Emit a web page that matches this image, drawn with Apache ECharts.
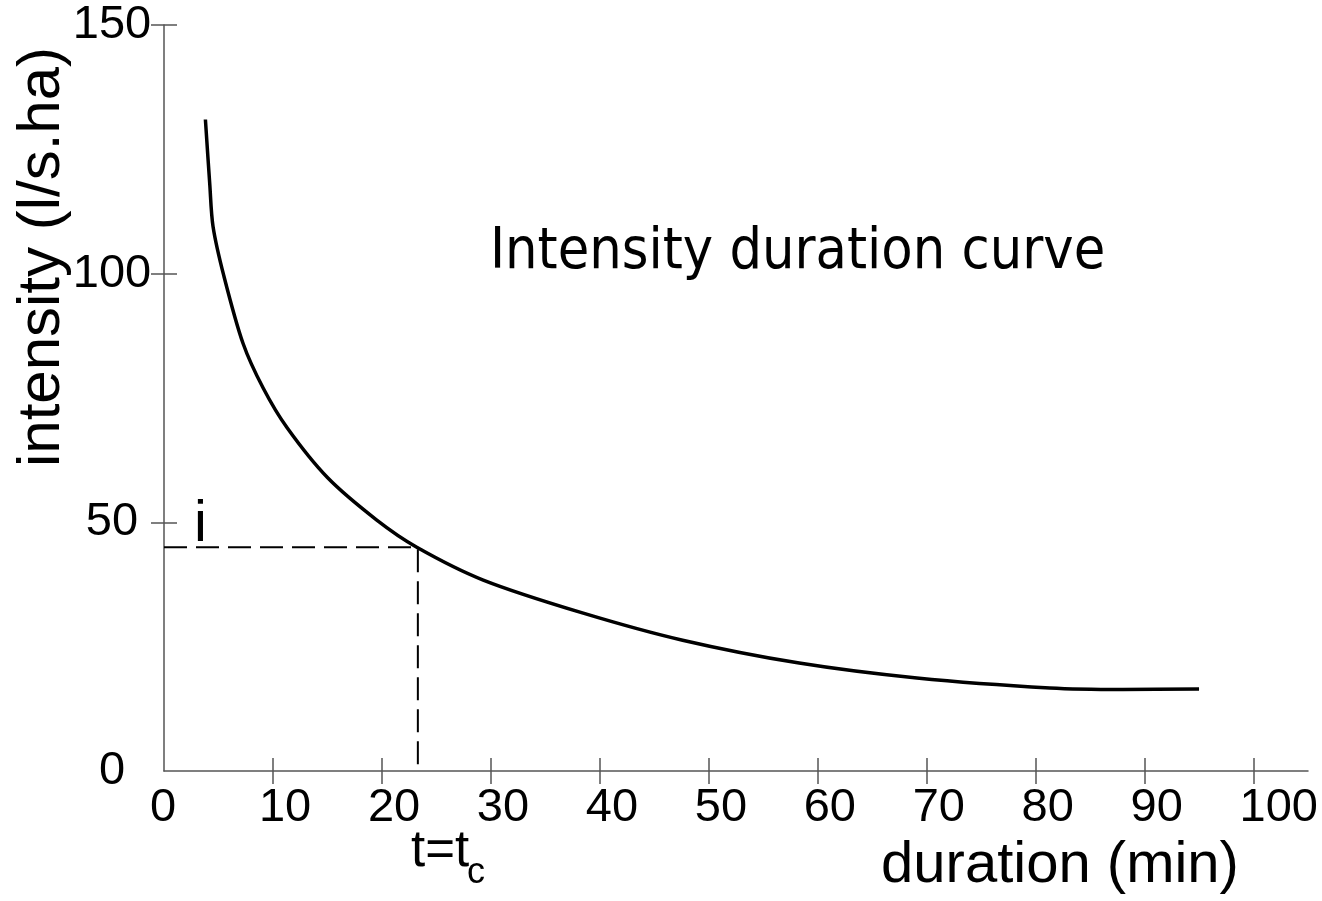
<!DOCTYPE html>
<html>
<head>
<meta charset="utf-8">
<script src="https://cdn.jsdelivr.net/npm/echarts@6/dist/echarts.min.js"></script>
<style>
html,body{margin:0;padding:0;background:#fff;}
#c{width:1322px;height:901px;}
</style>
</head>
<body>
<div id="c"></div>
<script>
// ---- data ----
const durations = [3.8, 4.2, 4.5, 5.5, 7.25, 9.1, 11.3, 15, 19.5, 23.2, 29.3, 38.4, 47.6, 58.3, 69.1, 81.3, 88, 95];
const intensities = [131, 118, 109.5, 99.5, 86, 77, 69, 59, 50.5, 45, 38.4, 31.8, 26.3, 21.7, 18.7, 16.7, 16.4, 16.5];
const tc = 23.3;          // time of concentration (min)
const ic = 45;            // intensity at tc (l/s.ha)
const xLabels = [0, 10, 20, 30, 40, 50, 60, 70, 80, 90, 100];
const xTicks = [10, 20, 30, 40, 50, 60, 70, 80, 90, 100];
const yLabels = [0, 50, 100, 150];
const yTicks = [50, 100, 150];

const chart = echarts.init(document.getElementById('c'), null, {renderer: 'canvas'});
const axisColor = '#555';
const labelFont = {fontFamily: 'Liberation Sans, Arial, sans-serif', fontSize: 47, color: '#000'};

const curve = durations.map((d, i) => [d, intensities[i]]);
const guide = [[0, ic], [tc, ic], [tc, 0]];

chart.setOption({
  animation: false,
  backgroundColor: '#fff',
  grid: {left: 164, right: 14, top: 25, bottom: 130, containLabel: false},
  xAxis: [
    {
      type: 'value', min: 0, max: 105, position: 'bottom',
      axisLine: {show: true, onZero: false, lineStyle: {color: axisColor, width: 1.5}},
      axisTick: {show: true, length: 13, customValues: xTicks, lineStyle: {color: axisColor, width: 1.5}},
      axisLabel: Object.assign({show: true, customValues: xLabels, margin: 37, verticalAlign: 'middle', align: 'left', padding: [0, 0, 0, -14]}, labelFont),
      splitLine: {show: false}
    },
    {
      type: 'value', min: 0, max: 105, position: 'bottom', gridIndex: 0,
      axisLine: {show: false},
      axisTick: {show: true, inside: true, length: 13, customValues: xTicks, lineStyle: {color: axisColor, width: 1.5}},
      axisLabel: {show: false},
      splitLine: {show: false}
    }
  ],
  yAxis: [
    {
      type: 'value', min: 0, max: 150, position: 'left',
      axisLine: {show: true, onZero: false, lineStyle: {color: axisColor, width: 1.5}},
      axisTick: {show: true, length: 13, customValues: yTicks, lineStyle: {color: axisColor, width: 1.5}},
      axisLabel: Object.assign({show: true, customValues: yLabels, margin: 52, align: 'center'}, labelFont),
      splitLine: {show: false}
    },
    {
      type: 'value', min: 0, max: 150, position: 'left', gridIndex: 0,
      axisLine: {show: false},
      axisTick: {show: true, inside: true, length: 13, customValues: yTicks, lineStyle: {color: axisColor, width: 1.5}},
      axisLabel: {show: false},
      splitLine: {show: false}
    }
  ],
  series: [
    {
      type: 'line', data: guide, showSymbol: false, symbol: 'none',
      lineStyle: {color: '#000', width: 2, type: [23, 9]}, z: 3
    },
    {
      type: 'line', data: curve, showSymbol: false, symbol: 'none', smooth: 0.3,
      lineStyle: {color: '#000', width: 3.5}, z: 4
    }
  ],
  graphic: [
    {type: 'text', x: 490, y: 253, style: {text: 'Intensity duration curve', font: '57px "DejaVu Sans Condensed", "DejaVu Sans", sans-serif', fill: '#000', textAlign: 'left', textVerticalAlign: 'middle'}},
    {type: 'text', x: 1060, y: 866, style: {text: 'duration (min)', font: '58px "Liberation Sans", Arial, sans-serif', fill: '#000', textAlign: 'center', textVerticalAlign: 'middle'}},
    {type: 'text', x: 42, y: 257, rotation: Math.PI / 2, style: {text: 'intensity (l/s.ha)', font: '60px "Liberation Sans", Arial, sans-serif', fill: '#000', textAlign: 'center', textVerticalAlign: 'middle'}},
    {type: 'text', x: 200.5, y: 525, style: {text: 'i', font: '58px "Liberation Sans", Arial, sans-serif', fill: '#000', textAlign: 'center', textVerticalAlign: 'middle'}},
    {type: 'text', x: 411, y: 852, style: {text: 't=t', font: '51px "Liberation Sans", Arial, sans-serif', fill: '#000', textAlign: 'left', textVerticalAlign: 'middle'}},
    {type: 'text', x: 467, y: 873, style: {text: 'c', font: '36px "Liberation Sans", Arial, sans-serif', fill: '#000', textAlign: 'left', textVerticalAlign: 'middle'}}
  ]
});
</script>
</body>
</html>
